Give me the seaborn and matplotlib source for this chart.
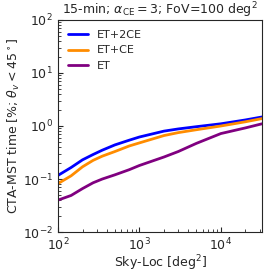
# CTA-MST time vs sky localisation area, three detector networks
import pandas as pd
import matplotlib
matplotlib.use("Agg")
import matplotlib.pyplot as plt
import seaborn as sns

sky_loc = [100, 145, 200, 270, 350, 500, 750, 1000, 2000, 3000, 5000, 10000, 20000, 32000]
et_2ce = [0.117, 0.165, 0.23, 0.29, 0.35, 0.44, 0.54, 0.62, 0.80, 0.88, 0.97, 1.1, 1.3, 1.48]
et_ce = [0.082, 0.115, 0.17, 0.225, 0.27, 0.33, 0.42, 0.48, 0.66, 0.75, 0.85, 1.0, 1.2, 1.38]
et = [0.040, 0.049, 0.066, 0.085, 0.10, 0.12, 0.15, 0.18, 0.26, 0.33, 0.47, 0.72, 0.92, 1.1]

networks = ["ET+2CE", "ET+CE", "ET"]
colors = ["blue", "darkorange", "purple"]


def main():
    frames = []
    for name, vals in zip(networks, [et_2ce, et_ce, et]):
        frames.append(pd.DataFrame({"sky": sky_loc, "time": vals, "net": name}))
    data = pd.concat(frames, ignore_index=True)

    sns.set_style("ticks")
    fig = plt.figure(figsize=(2.66, 2.73), dpi=100)
    ax = fig.add_axes([0.218, 0.150, 0.767, 0.777])
    sns.lineplot(data=data, x="sky", y="time", hue="net", hue_order=networks,
                 palette=colors, linewidth=2, ax=ax)

    ax.set_xscale("log")
    ax.set_yscale("log")
    ax.set_xlim(100, 32000)
    ax.set_ylim(1e-2, 1e2)
    ax.tick_params(which="both", direction="in", labelsize=9)
    ax.tick_params(which="major", length=3.5)
    ax.tick_params(which="minor", length=2)
    ax.set_xlabel(r"Sky-Loc [deg$^2$]", fontsize=9, labelpad=0)
    ax.set_ylabel(r"CTA-MST time [%; $\theta_v < 45^\circ$]", fontsize=9, labelpad=1)
    ax.set_title(r"15-min; $\alpha_{\rm CE} = 3$; FoV=100 deg$^2$", fontsize=9, pad=3)
    ax.legend(frameon=False, loc="upper left", fontsize=8, handlelength=1.8)

    fig.savefig("out.png", dpi=100)


if __name__ == "__main__":
    main()
